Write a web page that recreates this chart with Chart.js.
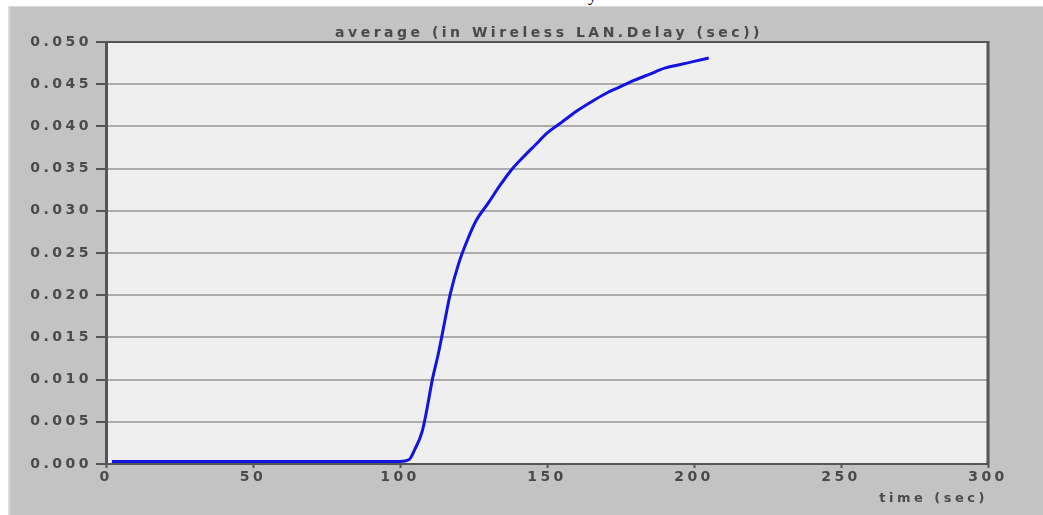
<!DOCTYPE html>
<html>
<head>
<meta charset="utf-8">
<script src="https://cdn.jsdelivr.net/npm/chart.js@4/dist/chart.umd.min.js"></script>
<style>
  body { margin: 0; background: #ffffff; width: 1043px; height: 515px; overflow: hidden; position: relative; }
  #panel { position: absolute; left: 8px; top: 6px; width: 1035px; height: 509px; background: #c3c3c3;
           border-top: 1px solid #dadada; border-left: 2px solid #dadada; box-sizing: border-box; }
  #wrap { position: absolute; left: 10px; top: 7px; width: 1033px; height: 508px; }
  #cut { position: absolute; left: 588px; top: -15px; font: 18px "Liberation Serif", serif; color: #000; }
</style>
</head>
<body>
<div id="cut">y</div>
<div id="panel"></div>
<div id="wrap"><canvas id="delay-chart" width="1033" height="508"></canvas></div>
<script>
// time (sec) and average wireless LAN delay (sec)
const times = [2, 20, 40, 60, 80, 100, 103, 105, 107.5, 109, 111, 113, 115, 117, 120, 123, 126, 130,
               134, 138, 142, 146, 150, 155, 160, 165, 170, 175, 180, 185, 190, 195, 200, 205];
const delays = [0.0003, 0.0003, 0.0003, 0.0003, 0.0003, 0.0003, 0.0005, 0.0017, 0.0038, 0.0062, 0.0100,
                0.0130, 0.0165, 0.0200, 0.0238, 0.0266, 0.0289, 0.0309, 0.0330, 0.0349, 0.0364, 0.0378,
                0.0392, 0.0405, 0.0418, 0.0429, 0.0439, 0.0447, 0.0455, 0.0462, 0.0469, 0.0473, 0.0477, 0.0481];
const chartTitle = 'average (in Wireless LAN.Delay (sec))';
const xTitle = 'time (sec)';

const points = times.map((t, i) => ({ x: t, y: delays[i] }));

// the source font is a very wide one, so spread the letters out
const spacing = {
    id: 'spacing',
    beforeLayout(chart) { chart.ctx.letterSpacing = '3.5px'; },
    beforeDraw(chart) {
        const { ctx, chartArea: a } = chart;
        ctx.letterSpacing = '3.5px';
        // light plot background
        ctx.save();
        ctx.fillStyle = '#efefef';
        ctx.fillRect(a.left, a.top, a.right - a.left, a.bottom - a.top);
        ctx.restore();
    }
};

const frame = {
    id: 'frame',
    afterDraw(chart) {
        const { ctx, chartArea: a } = chart;
        ctx.save();
        // top and right border of the plot box
        ctx.strokeStyle = '#555555';
        ctx.lineWidth = 2;
        ctx.beginPath();
        ctx.moveTo(a.left, a.top);
        ctx.lineTo(a.right, a.top);
        ctx.stroke();
        ctx.lineWidth = 3;
        ctx.beginPath();
        ctx.moveTo(a.right, a.top - 1);
        ctx.lineTo(a.right, a.bottom + 1);
        ctx.stroke();
        // title above the plot box
        ctx.letterSpacing = '3.5px';
        ctx.fillStyle = '#4a4a4a';
        ctx.font = 'bold 14px "DejaVu Sans"';
        ctx.textAlign = 'center';
        ctx.textBaseline = 'middle';
        ctx.fillText(chartTitle, (a.left + a.right) / 2 + 2, a.top - 9);
        ctx.restore();
    }
};

const tickFont = { family: 'DejaVu Sans', size: 14, weight: 'bold' };

new Chart(document.getElementById('delay-chart'), {
    type: 'line',
    data: {
        datasets: [{
            data: points,
            borderColor: '#1414e0',
            borderWidth: 3,
            pointRadius: 0,
            fill: false,
            cubicInterpolationMode: 'monotone',
        }]
    },
    options: {
        responsive: false,
        animation: false,
        layout: { padding: { top: 35, right: 55, left: 0, bottom: 0 } },
        plugins: {
            legend: { display: false },
            tooltip: { enabled: false },
            title: { display: false }
        },
        scales: {
            x: {
                type: 'linear',
                min: 0,
                max: 300,
                afterFit(scale) { scale.height = 51; },
                ticks: {
                    stepSize: 50,
                    color: '#4a4a4a',
                    font: tickFont,
                    padding: 1,
                    maxRotation: 0,
                },
                grid: {
                    drawOnChartArea: false,
                    tickLength: 4,
                    tickColor: '#555555',
                    tickWidth: 2,
                },
                border: { color: '#555555', width: 2 },
                title: {
                    display: true,
                    text: xTitle,
                    align: 'end',
                    color: '#4a4a4a',
                    font: { family: 'DejaVu Sans', size: 13, weight: 'bold' },
                    padding: { top: 0, bottom: 9 },
                }
            },
            y: {
                min: 0,
                max: 0.05,
                afterFit(scale) { scale.width = 96; },
                ticks: {
                    stepSize: 0.005,
                    color: '#4a4a4a',
                    font: tickFont,
                    padding: 4,
                    callback: function(value) {
                        return value.toFixed(3);
                    }
                },
                grid: {
                    color: '#ababab',
                    lineWidth: 2,
                    tickLength: 10,
                    tickColor: '#555555',
                },
                border: { color: '#555555', width: 3 }
            }
        }
    },
    plugins: [spacing, frame]
});
</script>
</body>
</html>
